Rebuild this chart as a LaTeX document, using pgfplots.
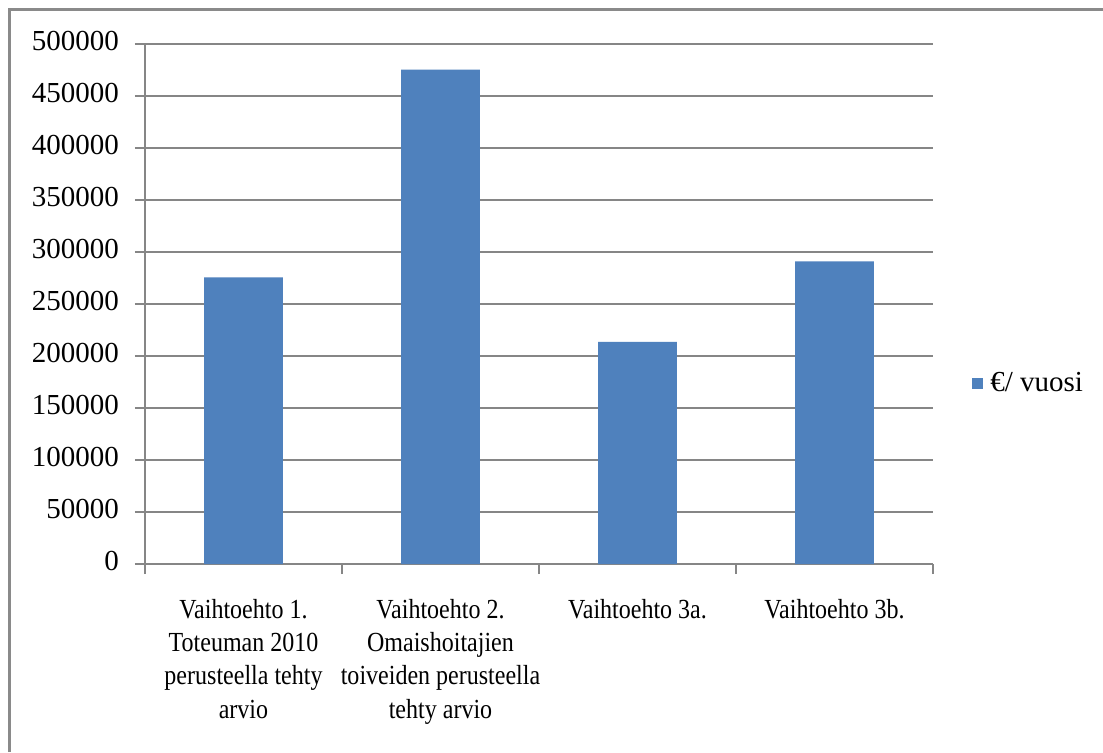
\documentclass[border=0pt]{standalone}
\usepackage{pgfplots}
\pgfplotsset{compat=1.18}
\usepackage{fontspec}
\setmainfont{Liberation Serif}
\newfontfamily\catfont{Liberation Serif}[FakeStretch=0.87]
\newfontfamily\tickfont{Liberation Serif}
\definecolor{barblue}{HTML}{4F81BD}
\definecolor{gridgray}{HTML}{868686}
\definecolor{framegray}{HTML}{8A8A8A}
\begin{document}
\begin{tikzpicture}
\useasboundingbox[fill=white] (0,0) rectangle (551.5pt,376pt);
\draw[framegray, line width=1.3pt] (4.75pt,0pt) -- (4.75pt,371.25pt) -- (551.5pt,371.25pt);
\begin{axis}[
  at={(72.5pt,94pt)}, anchor=south west,
  scale only axis, width=394pt, height=260pt,
  ybar, bar width=0.4,
  xmin=-0.5, xmax=3.5, ymin=0, ymax=500000,
  axis x line*=bottom, axis y line*=left,
  axis line style={gridgray, line width=0.6pt, -},
  ytick={0,50000,...,500000},
  ymajorgrids, grid style={gridgray, line width=0.6pt},
  major tick length=5pt, tick align=outside,
  tick style={gridgray, line width=0.6pt},
  scaled y ticks=false,
  yticklabel style={/pgf/number format/fixed, /pgf/number format/1000 sep={},
    /pgf/number format/assume math mode=true, xshift=-4.5pt, yshift=1.5pt,
    font=\tickfont\fontsize{14.5}{17}\selectfont, text=black},
  xtick={-0.5,0.5,1.5,2.5,3.5}, xticklabels={,,,,},
  extra x ticks={0,1,2,3},
  extra x tick labels={{Vaihtoehto 1.\\Toteuman 2010\\perusteella tehty\\arvio},
    {Vaihtoehto 2.\\Omaishoitajien\\toiveiden perusteella\\tehty arvio},
    {Vaihtoehto 3a.},{Vaihtoehto 3b.}},
  extra x tick style={major tick length=0pt, grid=none,
    xticklabel style={align=center, anchor=north, inner sep=0pt, yshift=-17.5pt,
      font=\catfont\fontsize{13.8}{16.6}\selectfont, text=black}},
  legend style={at={(rel axis cs:1.0495,0.348)}, anchor=west, draw=none,
    fill=none, inner sep=0pt, font=\fontsize{14.5}{17}\selectfont,
    nodes={inner sep=0pt},
    /tikz/every odd column/.style={column sep=3.5pt}},
  legend image code/.code={\fill[barblue] (0pt,-2.75pt) rectangle (5.5pt,2.75pt);},
]
\addplot[fill=barblue, draw=none] coordinates {(0,275700) (1,475300) (2,213500) (3,291100)};
\addlegendentry{€/ vuosi}
\end{axis}
\end{tikzpicture}
\end{document}
